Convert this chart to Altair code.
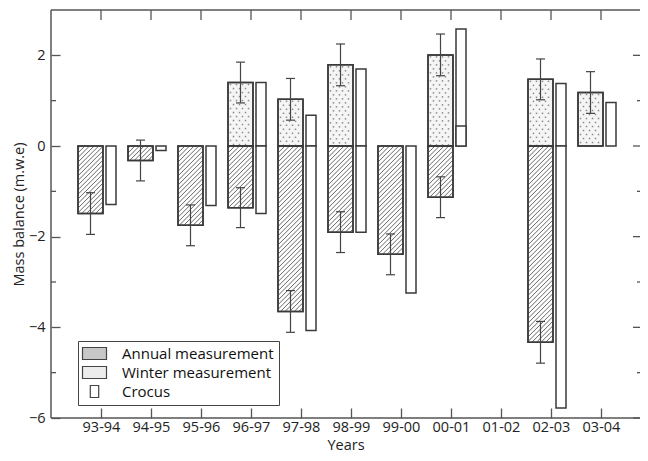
import altair as alt
import pandas as pd

# ---- data ----
years = ["93-94", "94-95", "95-96", "96-97", "97-98", "98-99", "99-00", "00-01", "01-02", "02-03", "03-04"]
annual = [-1.49, -0.32, -1.75, -1.36, -3.65, -1.90, -2.39, -1.13, None, -4.33, None]
annual_err = [0.46, 0.45, 0.45, 0.44, 0.46, 0.45, 0.45, 0.45, None, 0.46, None]
winter = [None, None, None, 1.40, 1.03, 1.79, None, 2.01, None, 1.47, 1.18]
winter_err = [None, None, None, 0.45, 0.46, 0.46, None, 0.46, None, 0.45, 0.46]
crocus_annual = [-1.29, -0.10, -1.31, -1.49, -4.07, -1.90, -3.24, 0.44, None, -5.78, None]
crocus_winter = [None, None, None, 1.40, 0.68, 1.70, None, 2.58, None, 1.38, 0.96]

y_major = [-6, -4, -2, 0, 2]
y_minor = [-5, -3, -1, 1]
groups = ["Annual measurement", "Winter measurement", "Crocus"]
legend_fill = ["#c8c8c8", "#ececec", "#ffffff"]
legend_shape = ["M-2,-1H2V1H-2Z", "M-2,-1H2V1H-2Z", "M-0.7,-1H0.7V1H-0.7Z"]

FONT = "Open Sans"
W, H = 589, 408
PPX = 50.0          # px per year on x
PPY = H / 9.0       # px per m w.e. on y
X_MAX = W / PPX
BAR_W = 25          # px width of the measured bars
HATCH = 4.6         # hatch spacing, px

rows = []
for i, yr in enumerate(years, start=1):
    k = i - 1
    if winter[k] is not None:
        rows.append(dict(pos=i, year=yr, group="Winter measurement", kind="meas", value=winter[k], err=winter_err[k]))
    if annual[k] is not None:
        rows.append(dict(pos=i, year=yr, group="Annual measurement", kind="meas", value=annual[k], err=annual_err[k]))
    if crocus_winter[k] is not None:
        rows.append(dict(pos=i, year=yr, group="Crocus", kind="crocus", value=crocus_winter[k], err=None))
    if crocus_annual[k] is not None:
        rows.append(dict(pos=i, year=yr, group="Crocus", kind="crocus", value=crocus_annual[k], err=None))
df = pd.DataFrame(rows)
df["zero"] = 0.0

label_expr = "[" + ",".join("'%s'" % y for y in years) + "][datum.value - 1]"

xscale = alt.Scale(domain=[0, X_MAX], nice=False, zero=False)
yscale = alt.Scale(domain=[-6, 3], nice=False, zero=False)

xaxis = alt.Axis(
    title="Years", values=list(range(1, len(years) + 1)), labelExpr=label_expr,
    offset=-10, tickSize=10, domain=False, grid=False, labelPadding=2,
    labelFont=FONT, labelFontSize=14.5, labelColor="#222", tickColor="#555", tickWidth=1.3,
    titleFont=FONT, titleFontSize=14.5, titleFontWeight="normal", titleColor="#222", titlePadding=5,
)
yaxis = alt.Axis(
    title="Mass balance (m.w.e)", values=y_major, offset=-9, tickSize=9, domain=False, grid=False,
    labelPadding=6, labelFont=FONT, labelFontSize=14.5, labelColor="#222", tickColor="#555", tickWidth=1.3,
    titleFont=FONT, titleFontSize=14.5, titleFontWeight="normal", titleColor="#222", titlePadding=2,
)

legend = alt.Legend(
    title=None, orient="none", legendX=27, legendY=331,
    strokeColor="#444", fillColor="white", padding=5,
    symbolSize=144, symbolOffset=4, symbolStrokeWidth=1.2, symbolOpacity=1,
    labelFont=FONT, labelFontSize=15, labelColor="#111", labelOffset=20, rowPadding=2,
)

X = lambda f: alt.X(f, scale=xscale, axis=xaxis)
Y = lambda f: alt.Y(f, scale=yscale, axis=yaxis)

base = alt.Chart(df).transform_calculate(
    x0="datum.kind === 'meas' ? datum.pos - 0.46 : datum.pos + 0.10",
    x1="datum.kind === 'meas' ? datum.pos + 0.04 : datum.pos + 0.30",
    barfill="datum.group === 'Winter measurement' ? '#f5f5f5' : '#ffffff'",
)

bars = base.mark_rect(stroke="#3a3a3a", strokeWidth=1.5).encode(
    x=X("x0:Q"), x2="x1:Q", y=Y("zero:Q"), y2="value:Q",
    fill=alt.Fill("barfill:N", scale=None),
)

# diagonal hatching of the annual bars
hatch = alt.Chart(df).transform_filter(
    "datum.group === 'Annual measurement'"
).transform_calculate(
    top="max(0, datum.value)", h="abs(datum.value) * %f" % PPY, X0="datum.pos - 0.46",
).transform_calculate(
    cs="sequence(%f, %d + datum.h, %f)" % (HATCH / 2, BAR_W, HATCH),
).transform_flatten(["cs"], as_=["c"]).transform_calculate(
    ua="max(0, datum.c - datum.h)", ub="min(%d, datum.c)" % BAR_W,
).transform_calculate(
    xa="datum.X0 + datum.ua / %f" % PPX, xb="datum.X0 + datum.ub / %f" % PPX,
    ya="datum.top - (datum.c - datum.ua) / %f" % PPY, yb="datum.top - (datum.c - datum.ub) / %f" % PPY,
).mark_rule(color="#555", strokeWidth=0.9).encode(
    x=X("xa:Q"), x2="xb:Q", y=Y("ya:Q"), y2="yb:Q",
)

# dotted texture of the winter bars
dots = alt.Chart(df).transform_filter(
    "datum.group === 'Winter measurement'"
).transform_calculate(
    top="max(0, datum.value)", h="abs(datum.value) * %f" % PPY, X0="datum.pos - 0.46",
).transform_calculate(
    rs="sequence(0, floor((datum.h - 2) / 4) + 1)",
).transform_flatten(["rs"], as_=["r"]).transform_calculate(
    cl="sequence(0, 4)",
).transform_flatten(["cl"], as_=["col"]).transform_calculate(
    dx="2.5 + datum.col * 6 + (datum.r % 2) * 3",
).transform_filter("datum.dx < 23").transform_calculate(
    dxv="datum.X0 + datum.dx / %f" % PPX, dyv="datum.top - (2 + datum.r * 4) / %f" % PPY,
).mark_square(size=2.2, color="#8a8a8a", opacity=1).encode(
    x=X("dxv:Q"), y=Y("dyv:Q"),
)

# outline again on top of the textures
outline = base.transform_filter("datum.kind === 'meas'").mark_rect(
    stroke="#3a3a3a", strokeWidth=1.5, fillOpacity=0, fill="white"
).encode(x=X("x0:Q"), x2="x1:Q", y=Y("zero:Q"), y2="value:Q")

# invisible points that only carry the legend symbols (fill + shape + stroke)
legend_pts = base.mark_point(filled=True, opacity=0).encode(
    x=X("x0:Q"), y=Y("zero:Q"),
    fill=alt.Fill("group:N", scale=alt.Scale(domain=groups, range=legend_fill), legend=legend),
    shape=alt.Shape("group:N", scale=alt.Scale(domain=groups, range=legend_shape), legend=legend),
    stroke=alt.Stroke("group:N", scale=alt.Scale(domain=groups, range=["#444", "#444", "#444"]), legend=legend),
)

errbase = alt.Chart(df).transform_filter("datum.err != null").transform_calculate(
    cx="datum.pos - 0.21", ca="datum.pos - 0.30", cb="datum.pos - 0.12",
    lo="datum.value - datum.err", hi="datum.value + datum.err",
)
err_line = errbase.mark_rule(color="#444", strokeWidth=1.2).encode(x=X("cx:Q"), y=Y("lo:Q"), y2="hi:Q")
cap_lo = errbase.mark_rule(color="#444", strokeWidth=1.2).encode(x=X("ca:Q"), x2="cb:Q", y=Y("lo:Q"))
cap_hi = errbase.mark_rule(color="#444", strokeWidth=1.2).encode(x=X("ca:Q"), x2="cb:Q", y=Y("hi:Q"))

# mirrored / minor tick marks (inside the frame)
minor_df = pd.DataFrame({"v": y_minor})
major_df = pd.DataFrame({"v": y_major})
xt_df = pd.DataFrame({"p": list(range(1, len(years) + 1))})
tick_style = dict(color="#555", strokeWidth=1.3)
left_minor = alt.Chart(minor_df).mark_rule(**tick_style).encode(y=Y("v:Q"), x=alt.value(0), x2=alt.value(5))
right_minor = alt.Chart(minor_df).mark_rule(**tick_style).encode(y=Y("v:Q"), x=alt.value(W - 3), x2=alt.value(W))
right_major = alt.Chart(major_df).mark_rule(**tick_style).encode(y=Y("v:Q"), x=alt.value(W - 7), x2=alt.value(W))
top_ticks = alt.Chart(xt_df).mark_rule(**tick_style).encode(x=X("p:Q"), y=alt.value(0), y2=alt.value(10))

# frame: left, top and bottom lines (the right edge lies beyond the picture)
one = pd.DataFrame({"k": [0]})
frame_style = dict(color="#555", strokeWidth=1.5)
frame_left = alt.Chart(one).mark_rule(**frame_style).encode(x=alt.value(0), y=alt.value(0), y2=alt.value(H))
frame_top = alt.Chart(one).mark_rule(**frame_style).encode(x=alt.value(0), x2=alt.value(W), y=alt.value(0))
frame_bottom = alt.Chart(one).mark_rule(**frame_style).encode(x=alt.value(0), x2=alt.value(W), y=alt.value(H))

chart = alt.layer(
    left_minor, right_minor, right_major, top_ticks, bars, hatch, dots, outline, legend_pts,
    err_line, cap_lo, cap_hi, frame_left, frame_top, frame_bottom,
).properties(
    width=W, height=H,
    padding={"left": 43, "top": 2, "right": 0, "bottom": 445 - 2 - H},
    autosize=alt.AutoSizeParams(type="none"),
    background="white",
).configure_view(stroke=None)

chart.save("out.html", embed_options={"renderer": "svg", "actions": False})
